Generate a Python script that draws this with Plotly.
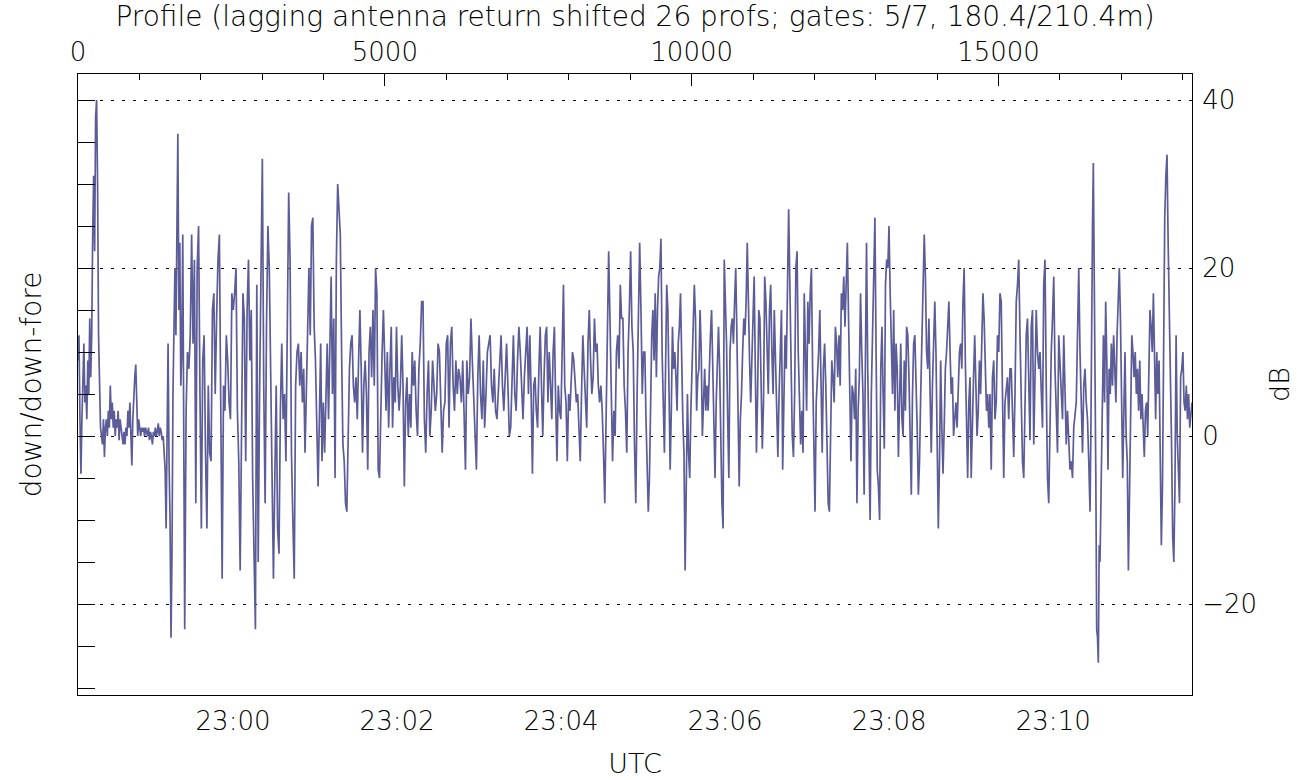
import numpy as np
import plotly.graph_objects as go

# Profile numbers bounding each run of samples (top axis units)
seg_edges = [0, 1739, 3614, 5488, 7363, 9237, 11112, 12986, 14861, 16491, 16654, 18153]

# down/down-fore ratio in dB, one list per run of profiles
db_a = [9, 12, 2, -4.5, 2, 6, 11, 4, 6, 2, 9, 5, 14, 7, 12, 24, 31, 22, 38, 40, 30, 12, 6, 1,
        0, -1, 2, -2.5, 1, 2, 0, 3, 1, 6, 2, 4, 1, 3, 0, 2, 1, 3, -0.5, 2, 1, -0.5, -1, 0.5, -1, 1,
        0, 3, 1, 4, 0, -3.5, 2, 5, 7, 8.5, 4, 0, 2, 1, 0, 1, 0.5, 1, 0, 1, 0.5, 0, 1, -0.5, 0.5,
        0, -1, 0.5, 0, 1, 0, 0.5, 1.5, 0, 1, 0.5, -0.5, 0, -2,
        -4, -11, 0, 11, -3, -10, -24, -14, 5, 14, 20, 12, 25, 36, 15, 23, 6, 10, 24, 0]
db_b = [-23, 3, 10, 8, 12, 24, 11, 21, -8, 20, 25, 5, -11, 9, 12, -2, -11, 6, -2, -3, 15, 17, 5,
        14, 21, 24, 0, -17, 6, 3, 12, 9, 4, 2, 17, 15, 17, 20, 3, -3, -16, 5, 17, 14, -3, 15, 21,
        9, 15, -5, -14, -23, 18, -15, 5, 17, 33, 6, -8, 13, 25, 20, 5, -4, -17, -5, 6, -11, -14,
        3, 11, 2, 5, -3, 12, 29, 21, -2, -10, -17, 6, 10, 11]
db_c = [6, 10, 4, 8, -2, 5, 14, 20, 12, 25, 26, 13, 9, 3, -6, 2, 11, -3, 4, -2, 6, 11, 2, 12, 19,
        5, 14, -5, 21, 30, 26, 24, 10, -1, -3, -8, -9, -2, 8, 11, 12, 6, 4, 7, 2, 9, 15, 8, -2, 6,
        9, 5, -4, 10, 13, 7, 15, 6, 20, 17, -4, -5, 4, 10, 15, 7, 3, 10, 1, 8, 13, 1, 7, 4, 13, 6,
        3, 6, 12, 6, -6, 4, 7, 0, 5, 1, 10, 6]
db_d = [9, 3, 0, 8, 11, 16, 16, 2, -2, 5, 9, 0, 3, 9, 5, 3, 5, 11, 10, 4, -2, 3, 4, 11, 12, 1, 11,
        13, 6, 3, 9, 5, 8, 7, 4, 9, 1, -4, 9, 5, 7, 14, 9, 4, -1, -4, 7, 12, 5, 2, 9, 1, 5, 10, 11,
        12, 6, 4, 8, 3, 2, 6, 10, 12, 6, 3, 7, 11, 6, 0, 1, 7, 12, 5, 3, 9, 13, 10, 5, 2, 7, 11,
        13, 5]
db_e = [12, 5, -4.5, 6, 7, 3, 1, 8, 13, 6, 0, 7, 12, 13, 4, 10, 6, 2, 10, 13, 4, -3, 6, 3, 2, 10,
        18, 6, 4, -3, 5, 3, 7, 10, 9, 6, 4, 5, 1, -3, 5, 12, 8, 4, 1, 11, 15, 9, 5, 7, 14, 10, 11,
        6, 4, 6, 3, -2, -8, 2, 12, 22, 14, 4, -3, 3, 0, 10, 12, 8, 18, 14, 14, 6, 3, -2, 10, 15,
        22, 13, 10, -1, -8, 5, 17, 23, 15, 5, 10]
db_f = [10, 2, -3, -9, -5, 5, 12, 15, 9, 17, 7, 15, 19, 20, 23.5, 10, 5, -2, 8, 18, 15, 4, -4, 3,
        13, 8, 10, 7, 3, 11, 13, 17, 6, 2, -2, -16, -6, 5, -2, -5, 3, 8, 12, 18, 14, 3, 7, 8, 15,
        10, 0, 4, 8, 3, 6, 3, 9, 12, 15, 8, 3, -5, 4, 10, 13, 8, -2, -8, -11, 21, 16, 11, 2, -5,
        10, 13, 14, 11, 16, 20, 12, 4, -6, 2, 5, 10, 14, 12, 16, 23, 13, 9, 4, 10, 15, 19, 8, -2,
        5, 15]
db_g = [14, 8, -1.5, 4, 19, 16, 10, 5, 15, 18, 10, 5, 15, 10, 2, -2.5, 5, 12, 15, -4, 5, 12, 8,
        20, 27, 18, 10, 0, -2.5, 5, 20, 22, 10, 5, -1, 3, -2, 17, 10, 3, 16, 11, 17, 20, 8, 1, -9,
        4, 7, 10, 15, 4, -2, 8, 11, 6, -2, -8, -9, 0, 9, 7, 4, 13, 11, 7, 12, 6, 17, 15, 19, 13,
        18, 23, 14, 2, -3, 6, 5, 2, 8, -8, 3, 7, 17, 10, 5, -7, 11, 23, 8, -4, -10, 5, 11, 20]
db_h = [26, 10, -4, -6, -10, 8, 13, 5, -1.5, 18, 21, 20, 25, 17, 12, 5, 15, 3, 11, 8, -2.5, 5, 11,
        2, 0, 9, 3, 13, 12, 7, -2, -7, 5, 11, 12, 7, 1, -7, -3, 5, 13, 16, 24, 19, 10, 8, 14, 5,
        -2, 6, 12, 16, 10, 0, -11, -3, 9, 1, -4.5, 1, 8, 10, 14, 16, 10, 5, 7, 0, 2, 4, 1, 5, 10,
        11, 8, 16, 20, 9, 2, -5, 4, 7, -5, 3, 7, 12, 6, 0, 3, 9, 5, 13, 17, 14, 9, 3, 5, 1]
db_i = [5, -4, 7, 9, 2, 4, 12, 10, 17, 16, 5, -5, 4, 6, 7, 2, 8, 8, 3, -2.5, 5, 16, 18, 21, 12, 5,
        -3, -5, 7, 12, 14, 6, -0.5, 13, 15, -1, 7, 15, 10, 8, 10, 5, 1, 18, 21, 6, -5, -8, 4, 10,
        14, 19, 8, 2, -2, 12, 8, 5, 2, 12, 5, -1, 3, 0, -4, -3, -5, 1, 3, 4, 12, 20, 10, 3, -2, 6,
        8, 4, 2, -3]
db_k = [-9, 0, 17, 25, 32.5, 22, 10, -5, -23, -24, -27, -13]
db_j = [-15, -5, 8, 12, 4, 16, 9, -4, 8, 5, 11, 6, 12, 8, 4, 12, 15, 20, 14, 5, -5, 3, 10, 0, -3,
        -16, -6, 5, 12, 10, 7, 10, 5, 8, 3, 9, 2, 5, 1, -2.5, 3, 4, 0, 9, 15, 13, 10, 17, 10, 2,
        10, 5, 9, -3, -13, -6, 12, 26, 31, 33.5, 23, 15, 10, -1, -12, -15, -6, 12, 0, -5, -8, 7,
        8, 10, 4, 3, 6, 2, 5, 1, 3, 4]

segments = [db_a, db_b, db_c, db_d, db_e, db_f, db_g, db_h, db_i, db_k, db_j]

# Time span covered by the profiles (bottom axis)
time_start = "2000-01-01 22:58:06.6"
time_end = "2000-01-01 23:11:41.5"

y_range = [-30.83, 43.1]

profiles, values = [], []
for k, seg in enumerate(segments):
    last = k == len(segments) - 1
    profiles.extend(np.linspace(seg_edges[k], seg_edges[k + 1], len(seg), endpoint=last))
    values.extend(seg)

FONT = "DejaVu Sans"
TXT = "#000000"


def tfont(size=26):
    return dict(family=FONT, size=size, color=TXT, weight=200)


fig = go.Figure()
fig.add_trace(go.Scatter(
    x=profiles, y=values, xaxis="x2", yaxis="y", mode="lines",
    line=dict(color="#5c5c98", width=1.7), hoverinfo="skip", showlegend=False))
# carrier for the time / dB axes
fig.add_trace(go.Scatter(
    x=[time_start, time_end], y=[0, 0], xaxis="x", yaxis="y2", mode="lines",
    line=dict(width=0, color="rgba(0,0,0,0)"), hoverinfo="skip", showlegend=False))

axis_common = dict(showline=True, linecolor="black", linewidth=1, ticks="inside",
                   tickcolor="black", tickwidth=1, zeroline=False, tickfont=tfont(),
                   automargin=False)

fig.update_layout(
    width=1310, height=780,
    margin=dict(l=78, r=118, t=74, b=85),
    paper_bgcolor="white", plot_bgcolor="white",
    font=tfont(),
    xaxis=dict(
        type="date", range=[time_start, time_end],
        tickformat="%H:%M", tick0="2000-01-01 23:00:00", dtick=120000,
        ticklen=18, showgrid=False, ticklabelstandoff=3,
        minor=dict(dtick=30000, tick0="2000-01-01 23:00:00", ticks="inside",
                   ticklen=9, tickcolor="black", showgrid=False),
        title=dict(text="UTC", standoff=18, font=tfont(27)),
        **axis_common),
    xaxis2=dict(
        overlaying="x", side="top", range=[seg_edges[0], seg_edges[-1]],
        tickmode="linear", tick0=0, dtick=5000, tickformat="d", ticklen=12, showgrid=False,
        ticklabelstandoff=2,
        minor=dict(dtick=1000, ticks="inside", ticklen=6, tickcolor="black", showgrid=False),
        title=dict(text="Profile (lagging antenna return shifted 26 profs; gates: 5/7, 180.4/210.4m)",
                   standoff=1, font=tfont(28)),
        **axis_common),
    yaxis=dict(
        range=y_range, tickmode="linear", tick0=0, dtick=20, ticklen=17,
        showticklabels=False,
        showgrid=True, gridcolor="black", gridwidth=1, griddash="3px,8px",
        minor=dict(dtick=5, ticks="inside", ticklen=17, tickcolor="black", showgrid=False),
        title=dict(text="down/down-fore", standoff=27, font=tfont(28)),
        **axis_common),
    yaxis2=dict(
        overlaying="y", side="right", range=y_range, tickmode="linear", tick0=0, dtick=20,
        ticklen=22, ticklabelstandoff=4, showgrid=False,
        minor=dict(dtick=5, ticks="inside", ticklen=11, tickcolor="black", showgrid=False),
        title=dict(text="dB", standoff=14, font=tfont(27)),
        **axis_common),
)

fig.write_html("out.html")
